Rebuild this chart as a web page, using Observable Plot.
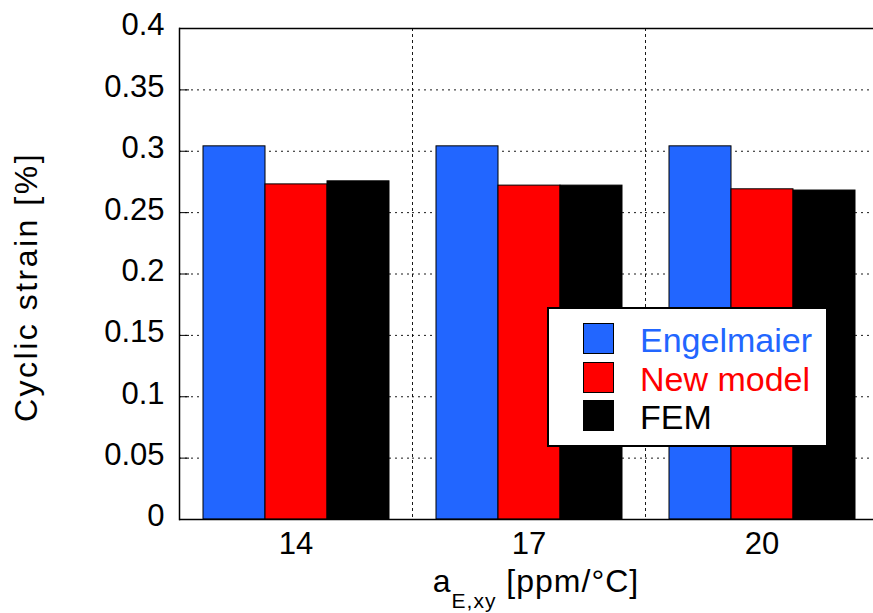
<!DOCTYPE html>
<html><head><meta charset="utf-8">
<script src="https://cdn.jsdelivr.net/npm/d3@7"></script>
<script src="https://cdn.jsdelivr.net/npm/@observablehq/plot@0.6"></script>
<style>
html,body{margin:0;padding:0;overflow:hidden;background:#fff;}
#wrap{position:relative;width:873px;height:613px;overflow:hidden;font-family:"Liberation Sans",Arial,sans-serif;}
#wrap svg{max-width:none !important;}
.legend{position:absolute;left:547px;top:307px;width:281px;height:140px;box-sizing:border-box;border:2px solid #000;background:#fff;}
.legend .row{position:absolute;left:0;height:34px;}
.legend .sw{position:absolute;left:34px;top:0;width:31px;height:31px;box-sizing:border-box;border:1px solid #000;}
.legend .lab{position:absolute;left:91px;top:0;font-size:34px;line-height:34px;white-space:nowrap;}
</style></head><body><div id="wrap"></div>
<script>
const groups = ["14", "17", "20"];
const series = ["Engelmaier", "New model", "FEM"];
const engelmaier = [0.304, 0.304, 0.304];
const newModel = [0.273, 0.272, 0.269];
const fem = [0.2755, 0.272, 0.268];
const yTicks = [0, 0.05, 0.1, 0.15, 0.2, 0.25, 0.3, 0.35, 0.4];
const yLabel = "Cyclic strain [%]";
const xLabelMain = "a";
const xLabelSub = "E,xy";
const xLabelUnit = " [ppm/°C]";
const colors = ["#2266ff", "#ff0000", "#000000"];

const valuesBySeries = [engelmaier, newModel, fem];
const table = groups.flatMap((g, gi) => series.map((s, si) => ({group: g, series: s, value: valuesBySeries[si][gi]})));
const dotted = "2,4";
const font = '"Liberation Sans", Arial, sans-serif';

const chart = Plot.plot({
  width: 880, height: 613,
  marginLeft: 178, marginRight: 2, marginTop: 28, marginBottom: 94,
  style: {fontFamily: font, background: "#fff", maxWidth: "none", color: "#000"},
  fx: {domain: groups, padding: 0},
  x: {domain: series, paddingInner: 0, paddingOuter: 0.375, axis: null},
  y: {domain: [0, 0.4]},
  color: {domain: series, range: colors},
  marks: [
    Plot.gridY(yTicks, {stroke: "#000", strokeOpacity: 0.9, strokeDasharray: dotted}),
    Plot.frame({anchor: "left", fx: "17", stroke: "#000", strokeOpacity: 0.9, strokeDasharray: dotted}),
    Plot.frame({anchor: "left", fx: "20", stroke: "#000", strokeOpacity: 0.9, strokeDasharray: dotted}),
    Plot.barY(table, {fx: "group", x: "series", y: "value", fill: "series", stroke: "#000", strokeWidth: 1}),
    Plot.ruleY([0, 0.4], {stroke: "#000", strokeWidth: 1.5}),
    Plot.frame({anchor: "left", fx: "14", stroke: "#000", strokeWidth: 1.5}),
    Plot.axisY(yTicks, {tickSize: 10, dx: 10, tickFormat: () => "", label: null}),
    Plot.axisY(yTicks, {tickSize: 0, tickPadding: 15, fontSize: 31, dy: -3, tickFormat: d3.format("~g"), label: null, fill: "#000"}),
    Plot.axisFx({anchor: "bottom", tickSize: 0, tickPadding: 12, fontSize: 31, label: null, fill: "#000"})
  ]
});
chart.style.maxWidth = "none";
const wrap = document.getElementById("wrap");
wrap.appendChild(chart);

const svg = d3.select(chart);
// y-axis title
svg.append("text")
  .attr("transform", "translate(37,287) rotate(-90)")
  .attr("text-anchor", "middle")
  .attr("font-family", font)
  .attr("font-size", 32)
  .attr("letter-spacing", "2.5px")
  .attr("fill", "#000")
  .text(yLabel);
// x-axis title with subscript
const xt = svg.append("text")
  .attr("x", 536).attr("y", 592)
  .attr("text-anchor", "middle")
  .attr("font-family", font)
  .attr("font-size", 32)
  .attr("letter-spacing", "1px")
  .attr("fill", "#000");
xt.append("tspan").text(xLabelMain);
xt.append("tspan").attr("dy", 16).attr("font-size", 21).text(xLabelSub);
xt.append("tspan").attr("dy", -16).text(xLabelUnit);

// legend inside the plot
const legend = d3.select(wrap).append("div").attr("class", "legend");
series.forEach((s, i) => {
  const row = legend.append("div").attr("class", "row").style("top", (14 + i * 38.5) + "px");
  row.append("div").attr("class", "sw").style("background", colors[i]);
  row.append("div").attr("class", "lab").style("color", colors[i]).text(s);
});
</script></body></html>
